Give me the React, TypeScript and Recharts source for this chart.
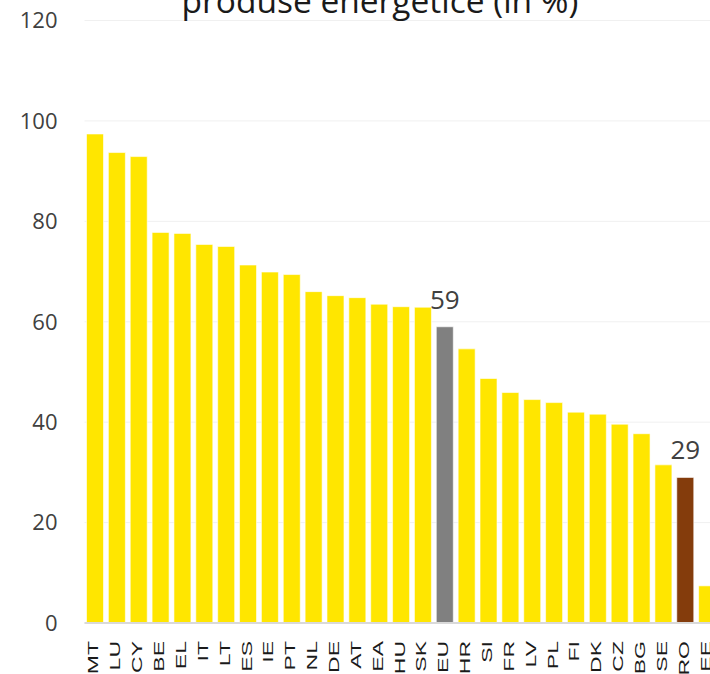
import React from "react";
import { BarChart, Bar, XAxis, YAxis, CartesianGrid, Cell, LabelList } from "recharts";

// Share of energy products, by country (in %)
const countries = [
  "MT", "LU", "CY", "BE", "EL", "IT", "LT", "ES", "IE", "PT",
  "NL", "DE", "AT", "EA", "HU", "SK", "EU", "HR", "SI", "FR",
  "LV", "PL", "FI", "DK", "CZ", "BG", "SE", "RO", "EE",
];
const shares = [
  97.4, 93.7, 92.9, 77.8, 77.6, 75.4, 75.0, 71.3, 69.9, 69.4,
  66.0, 65.2, 64.8, 63.5, 63.0, 62.9, 59, 54.6, 48.7, 45.9,
  44.5, 43.9, 42.0, 41.6, 39.6, 37.7, 31.5, 29, 7.4,
];
const labelled = ["EU", "RO"];
const yTicks = [0, 20, 40, 60, 80, 100, 120];

const data = countries.map((country, i) => ({
  country,
  value: shares[i],
  label: labelled.includes(country) ? shares[i] : null,
}));

const colorFor = (country: string) => {
  if (country === "EU") return "#808080";
  if (country === "RO") return "#843C0C";
  return "#FFE600";
};

// vertical country codes, narrow across the bar and long along the text
const CountryTick = ({ x, y, payload }: any) => (
  <g transform={`translate(${x - 2},${y})`}>
    <text
      transform="rotate(-90) scale(1, 0.61)"
      textAnchor="end"
      dy="0.36em"
      fontSize={23}
      fontFamily="Liberation Sans, Arial, sans-serif"
      fill="#1a1a1a"
    >
      {payload.value}
    </text>
  </g>
);

export default function App() {
  return (
    <div
      style={{
        position: "absolute",
        left: 0,
        top: 0,
        width: 710,
        height: 674,
        overflow: "hidden",
        background: "#fff",
      }}
    >
      <BarChart
        width={730}
        height={700}
        data={data}
        margin={{ top: 20.5, right: 11.5, left: 0, bottom: 17 }}
      >
        <CartesianGrid vertical={false} stroke="#f0f0f0" />
        <XAxis
          dataKey="country"
          interval={0}
          height={60}
          tickLine={false}
          tickSize={0}
          tickMargin={18}
          axisLine={{ stroke: "#d9d9d9", strokeWidth: 2 }}
          tick={<CountryTick />}
        />
        <YAxis
          domain={[0, 120]}
          ticks={yTicks}
          width={84.5}
          axisLine={false}
          tickLine={false}
          tickSize={0}
          tickMargin={27}
          tick={{ fontSize: 22, fill: "#404040", fontFamily: "Open Sans, sans-serif" }}
        />
        <Bar
          dataKey="value"
          barSize={17}
          stroke="rgba(255,255,255,0.6)"
          strokeWidth={1}
          isAnimationActive={false}
        >
          {data.map((d) => (
            <Cell key={d.country} fill={colorFor(d.country)} />
          ))}
          <LabelList
            dataKey="label"
            position="top"
            offset={18}
            fill="#404040"
            fontSize={26}
            fontFamily="Open Sans, sans-serif"
          />
        </Bar>
      </BarChart>
      <svg
        width={710}
        height={30}
        style={{ position: "absolute", left: 0, top: 0, pointerEvents: "none" }}
      >
        <text
          x={380}
          y={13}
          textAnchor="middle"
          fontSize={33.5}
          fontFamily="Open Sans, sans-serif"
          fill="#1a1a1a"
        >
          produse energetice (în %)
        </text>
      </svg>
    </div>
  );
}
